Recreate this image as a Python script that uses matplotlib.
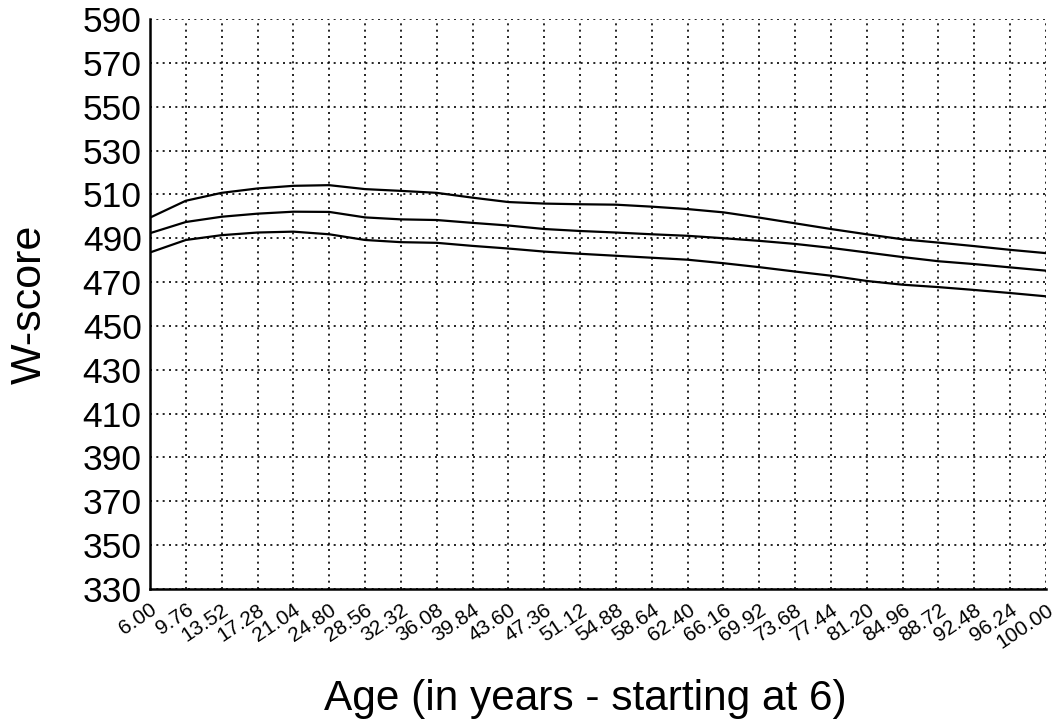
import numpy as np
import matplotlib
matplotlib.use("Agg")
import matplotlib.pyplot as plt

plt.rcParams['font.family'] = ['Liberation Sans', 'DejaVu Sans']

# ages where the curves were sampled
age = [6.00, 9.76, 13.52, 17.28, 21.04, 24.80, 28.56, 32.32, 36.08, 39.84,
       43.60, 47.36, 51.12, 54.88, 58.64, 62.40, 66.16, 69.92, 73.68, 77.44,
       81.20, 84.96, 88.72, 92.48, 96.24, 100.00]

upper = [499.4, 507.1, 510.7, 512.7, 513.9, 514.2, 512.4, 511.6, 510.7, 508.5,
         506.5, 505.8, 505.5, 505.3, 504.4, 503.3, 501.8, 499.4, 496.8, 494.2,
         491.8, 489.5, 488.0, 486.4, 484.7, 483.2]
middle = [492.3, 497.4, 499.8, 501.2, 502.1, 502.0, 499.5, 498.6, 498.3, 497.0,
          495.8, 494.2, 493.3, 492.6, 491.8, 491.1, 490.0, 488.8, 487.4, 485.6,
          483.5, 481.4, 479.5, 478.2, 476.7, 475.2]
lower = [483.5, 489.2, 491.4, 492.6, 493.0, 491.8, 489.2, 488.2, 487.9, 486.5,
         485.3, 483.9, 482.9, 482.0, 481.1, 480.2, 478.6, 476.8, 474.8, 472.9,
         470.5, 468.8, 467.7, 466.4, 465.0, 463.5]

x_ticks = age
y_ticks = list(range(330, 591, 20))

fig = plt.figure(figsize=(10.57, 7.25), dpi=100)
ax = fig.add_axes([0.1419, 0.1876, 0.8477, 0.7862])

for series in (upper, middle, lower):
    ax.plot(age, series, color='black', linewidth=1.6)

ax.set_xlim(6, 100)
ax.set_ylim(330, 590)
ax.set_xticks(x_ticks)
ax.set_xticklabels(["%.2f" % t for t in x_ticks], rotation=34, ha='right',
                   rotation_mode='anchor', fontsize=15)
ax.set_yticks(y_ticks)
ax.set_yticklabels([str(t) for t in y_ticks], fontsize=25.5)
ax.tick_params(length=0)
ax.tick_params(axis='y', pad=6)
ax.tick_params(axis='x', pad=8)

ax.grid(True, color='black', linestyle=(0, (1.2, 2.6)), linewidth=1.2)
ax.set_axisbelow(True)
for side in ('top', 'right'):
    ax.spines[side].set_visible(False)
for side in ('left', 'bottom'):
    ax.spines[side].set_linewidth(1.8)

fig.text(0.028, 0.58, "W-score", rotation=90, fontsize=31, ha='center', va='center')
fig.text(0.5535, 0.0207, "Age (in years - starting at 6)", fontsize=30.5,
         ha='center', va='baseline')

fig.savefig("out.png", dpi=100, facecolor='white')
